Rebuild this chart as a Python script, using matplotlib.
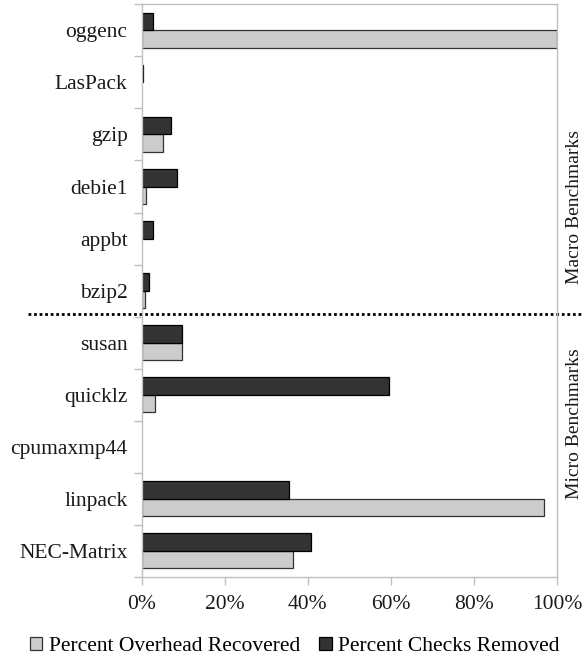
import matplotlib
matplotlib.use('Agg')
import matplotlib.pyplot as plt
import matplotlib.transforms as mtransforms
import numpy as np

# benchmark results, listed top to bottom
benchmarks = ['oggenc', 'LasPack', 'gzip', 'debie1', 'appbt', 'bzip2',
              'susan', 'quicklz', 'cpumaxmp44', 'linpack', 'NEC-Matrix']
overhead_recovered = [100.0, 0.0, 5.2, 1.2, 0.0, 0.9,
                      9.7, 3.3, 0.0, 96.8, 36.5]
checks_removed = [2.7, 0.3, 7.1, 8.5, 2.7, 1.9,
                  9.7, 59.5, 0.0, 35.4, 40.8]

plt.rcParams['font.family'] = ['Liberation Serif', 'DejaVu Serif']

fig = plt.figure(figsize=(5.84, 6.57), dpi=100)
ax = fig.add_axes([0.2423, 0.1222, 0.7115, 0.8711])

y = np.arange(len(benchmarks))
h = 1 / 3
# no outline for empty bars
lw_rec = [0.9 if v > 0 else 0 for v in overhead_recovered]
lw_chk = [0.9 if v > 0 else 0 for v in checks_removed]
ax.barh(y + h / 2, overhead_recovered, height=h, color='#cccccc',
        edgecolor='#333333', linewidth=lw_rec, label='Percent Overhead Recovered')
ax.barh(y - h / 2, checks_removed, height=h, color='#333333',
        edgecolor='#000000', linewidth=lw_chk, label='Percent Checks Removed')

ax.set_xlim(0, 100)
ax.set_ylim(len(benchmarks) - 0.5, -0.5)

ax.set_xticks(np.arange(0, 101, 20))
ax.set_xticklabels(['%d%%' % v for v in range(0, 101, 20)])
ax.set_yticks(y)
ax.set_yticklabels(benchmarks)
ax.set_yticks(np.arange(-0.5, len(benchmarks)), minor=True)

ax.tick_params(axis='y', which='major', length=0, pad=10, labelsize=15.5,
               labelcolor='#1a1a1a')
ax.tick_params(axis='y', which='minor', length=6, color='#bfbfbf', width=1)
ax.tick_params(axis='x', length=6, color='#bfbfbf', width=1, pad=7,
               labelsize=15.5, labelcolor='#1a1a1a')

for s in ax.spines.values():
    s.set_color('#bfbfbf')
    s.set_linewidth(1)

# separator between the macro and micro groups
trans = mtransforms.blended_transform_factory(ax.transAxes, ax.transData)
ax.plot([-0.273, 1.07], [5.46, 5.46], transform=trans, clip_on=False,
        color='black', linestyle=(0, (1, 1)), linewidth=2)

ax.text(1.043, 0.646, 'Macro Benchmarks', transform=ax.transAxes,
        rotation=90, ha='center', va='center', fontsize=14, color='#1a1a1a')
ax.text(1.043, 0.267, 'Micro Benchmarks', transform=ax.transAxes,
        rotation=90, ha='center', va='center', fontsize=14, color='#1a1a1a')

fig.legend(loc='center', bbox_to_anchor=(0.505, 0.016), ncol=2,
           frameon=False, fontsize=15.5, handlelength=0.56, handleheight=0.56,
           handletextpad=0.3, columnspacing=0.9, borderpad=0)

fig.savefig('out.png', dpi=100)
